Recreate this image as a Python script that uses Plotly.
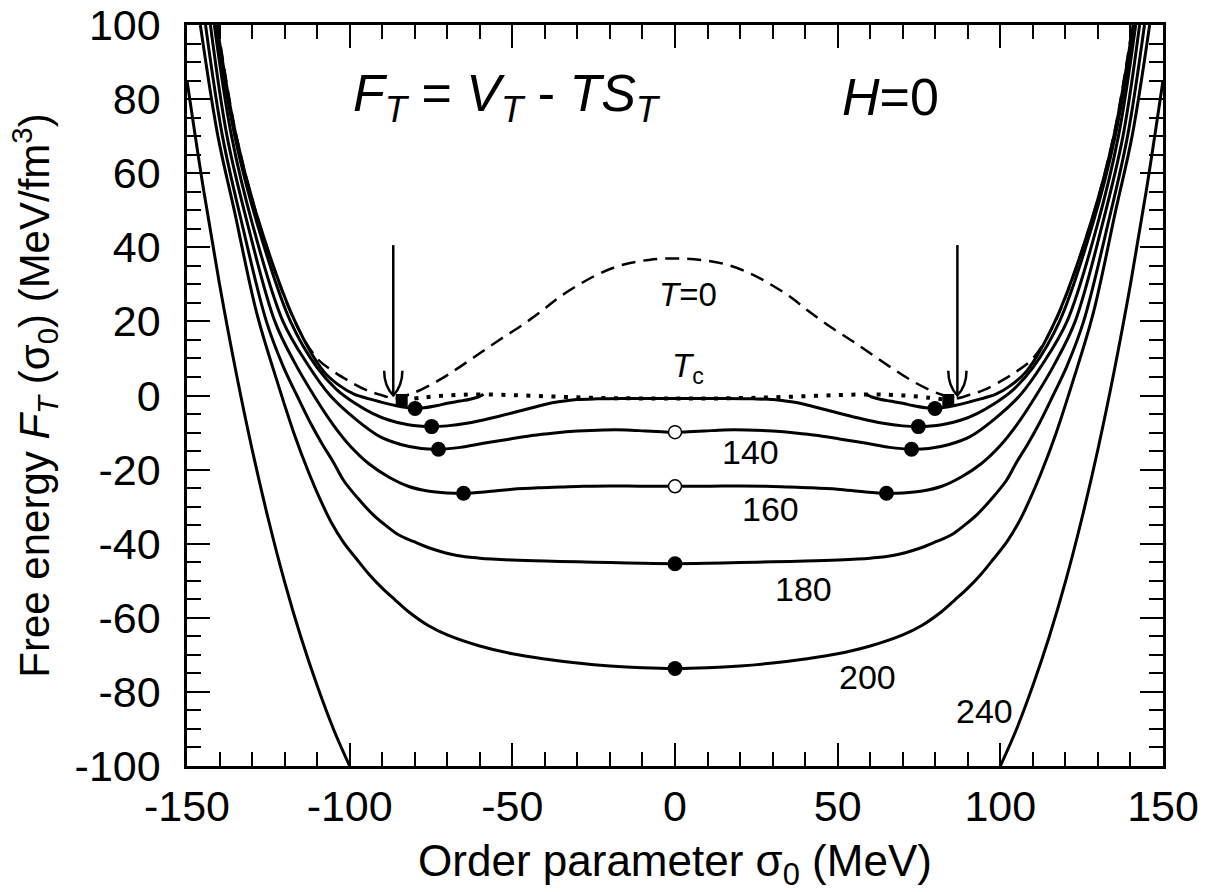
import plotly.graph_objects as go

# ---------------- data (left half; curves are symmetric) ----------------
sig_T0 = [-140.6, -134.8, -127.6, -117, -110, -105, -100.8, -95, -90.6, -86, -82, -78, -72, -66, -60, -54, -47.6, -41, -35.3, -29, -23, -16, -8, 0]
F_T0 = [100, 70, 46, 20.2, 10, 6.5, 4.2, 1.5, 0.2, -0.8, 0.2, 1.6, 4.4, 7.8, 11.4, 15, 18.6, 22.8, 26.7, 30.2, 33, 35.3, 36.6, 37]

sig_Tc = [-84, -78, -72, -66, -59, -50, -40, -30, -20, -10, 0]
F_Tc = [-1.2, -0.6, -0.1, 0.2, 0.3, 0.1, -0.2, -0.5, -0.7, -0.8, -0.8]

sig_Ta = [-140.8, -134.9, -127.6, -116.8, -108, -103, -98.5, -94, -90.7, -86, -82, -79.9, -77, -73, -70, -66, -63, -60.5, -59.5, -58.9]
F_Ta = [100, 70, 46, 20, 6.5, 2.6, 0.3, -0.9, -1.7, -2.7, -3.3, -3.5, -3.3, -2.7, -2.1, -1.5, -1.0, -0.4, 0.0, 0.4]

sig_Tb = [-141.1, -135.3, -128.3, -118.2, -110, -104, -98, -93, -88, -82, -74.8, -70, -64, -56, -48.7, -43, -38.4, -34, -30.2, -24, -16, -8, 0]
F_Tb = [100, 70, 46, 20, 7.5, 1.6, -2.3, -4.8, -6.6, -7.9, -8.4, -8.2, -7.5, -6.0, -4.4, -3.1, -2.1, -1.5, -1.1, -0.9, -0.8, -0.8, -0.8]

sig_140 = [-141.6, -136.3, -129.8, -120.5, -113, -106, -98, -90.7, -84, -78, -72.7, -66, -58.9, -51, -44, -37, -30, -22, -15, -9, -4, 0]
F_140 = [100, 70, 46, 20, 8.5, 0, -6.5, -11.1, -13.3, -14.3, -14.5, -14, -12.9, -11.8, -10.8, -10.1, -9.6, -9.3, -9.3, -9.6, -9.8, -9.9]

sig_160 = [-142.8, -137.7, -131.3, -123, -117, -111, -105, -100, -94, -88, -82, -76, -70, -65, -58, -50, -42, -35, -28, -20, -10, 0]
F_160 = [100, 70, 46, 20, 9, 0, -8, -13.5, -18.5, -22, -24.5, -25.8, -26.3, -26.4, -26.0, -25.3, -24.9, -24.7, -24.5, -24.4, -24.5, -24.5]

sig_180 = [-144.3, -139.1, -133, -125.6, -120.5, -116.2, -112, -108.5, -105, -101.8, -97, -93, -89, -85, -80.4, -75, -67, -60, -50, -40, -30, -20, -10, 0]
F_180 = [100, 70, 46, 20, 8, 0, -7.5, -13, -18, -23, -28.2, -32, -35, -37.6, -39.4, -41.3, -43.2, -43.9, -44.4, -44.7, -44.9, -45.1, -45.3, -45.4]

sig_200 = [-145.9, -140.5, -135.6, -128.5, -122, -117, -112.5, -109, -105.5, -102, -98, -94, -90, -86, -82, -76, -70, -60, -50, -40, -30, -20, -10, 0]
F_200 = [100, 70, 50.5, 22, 3, -10.5, -21, -28.2, -34.5, -39.5, -44, -48.3, -52, -55.2, -58.3, -62, -64.6, -67.6, -69.7, -71.1, -72.2, -73, -73.5, -73.7]

sig_240 = [-150, -145, -140, -135, -130, -125, -120, -115, -110, -105, -100]
F_240 = [85, 56, 30, 6.6, -14.5, -33.4, -50.3, -65.2, -78.3, -90, -100]

# markers
sq_sig = [-84, 84]
sq_F = [-1.2, -1.2]
dot_sig = [-79.9, 79.9, -74.8, 74.8, -72.7, 72.7, -65, 65, 0, 0]
dot_F = [-3.5, -3.5, -8.4, -8.4, -14.5, -14.5, -26.4, -26.4, -45.4, -73.7]
open_sig = [0, 0]
open_F = [-9.9, -24.5]

# arrows (T=0 minima)
arrow_sig = [-86.6, 86.8]
arrow_top = 40.6
arrow_tip = 0.0

# labels
curve_labels = ["140", "160", "180", "200", "240"]
label_sig = [23.3, 29.5, 39.5, 59.2, 95.2]
label_F = [-15.2, -30.5, -52.2, -75.9, -85.1]

# tick labels
x_tickvals = [-150, -100, -50, 0, 50, 100, 150]
x_ticktext = ["-150", "-100", "-50", "0", "50", "100", "150"]
y_tickvals = [-100, -80, -60, -40, -20, 0, 20, 40, 60, 80, 100]
y_ticktext = ["-100", "-80", "-60", "-40", "-20", "0", "20", "40", "60", "80", "100"]

FONT = "Liberation Sans, Arial, Helvetica, sans-serif"


def full(sl, fl):
    """left half + mirrored right half (symmetric curve)"""
    xs = list(sl)
    ys = list(fl)
    for s, f in zip(reversed(sl), reversed(fl)):
        if s != 0:
            xs.append(-s)
            ys.append(f)
    return xs, ys


fig = go.Figure()


def add_line(x, y, width=3, dash=None):
    fig.add_trace(go.Scatter(
        x=x, y=y, mode="lines", showlegend=False, hoverinfo="skip",
        line=dict(color="black", width=width, dash=dash, shape="spline", smoothing=1.0)))


for sl, fl in [(sig_Tb, F_Tb), (sig_140, F_140), (sig_160, F_160), (sig_180, F_180), (sig_200, F_200)]:
    x, y = full(sl, fl)
    add_line(x, y)

# stub (just below Tc) and T=240: separate left / right branches
for sl, fl in [(sig_Ta, F_Ta), (sig_240, F_240)]:
    add_line(sl, fl)
    add_line([-s for s in sl], fl)

x, y = full(sig_T0, F_T0)
add_line(x, y, width=2.5, dash="14px,8px")
x, y = full(sig_Tc, F_Tc)
add_line(x, y, width=4, dash="4px,8.5px")

fig.add_trace(go.Scatter(x=sq_sig, y=sq_F, mode="markers", showlegend=False, hoverinfo="skip",
                         marker=dict(symbol="square", size=12, color="black")))
fig.add_trace(go.Scatter(x=dot_sig, y=dot_F, mode="markers", showlegend=False, hoverinfo="skip",
                         marker=dict(symbol="circle", size=15, color="black")))
fig.add_trace(go.Scatter(x=open_sig, y=open_F, mode="markers", showlegend=False, hoverinfo="skip",
                         marker=dict(symbol="circle", size=13, color="white", line=dict(color="black", width=1.5))))

# arrows
shapes = []
for s in arrow_sig:
    shapes.append(dict(type="line", xref="x", yref="y", x0=s, x1=s, y0=arrow_top, y1=arrow_tip,
                       line=dict(color="black", width=2.5)))
    shapes.append(dict(type="path", xref="x", yref="y",
                       path=f"M {s-2.8},{arrow_tip+6.7} Q {s-2.8},{arrow_tip+2.6} {s},{arrow_tip} "
                            f"Q {s+2.8},{arrow_tip+2.6} {s+2.8},{arrow_tip+6.7}",
                       line=dict(color="black", width=2.5)))

annotations = [
    dict(x=-51.5, y=80.5, text="<i>F</i><sub><i>T</i></sub> = <i>V</i><sub><i>T</i></sub> - <i>TS</i><sub><i>T</i></sub>",
         font=dict(size=52, family=FONT, color="black")),
    dict(x=66.1, y=80.5, text="<i>H</i>=0", font=dict(size=52, family=FONT, color="black")),
    dict(x=4.1, y=27.3, text="<i>T</i>=0", font=dict(size=33, family=FONT, color="black")),
    dict(x=4.0, y=7.5, text="<i>T</i><sub>c</sub>", font=dict(size=33, family=FONT, color="black")),
]
for t, s, f in zip(curve_labels, label_sig, label_F):
    annotations.append(dict(x=s, y=f, text=t, font=dict(size=34, family=FONT, color="black")))
for a in annotations:
    a.update(xref="x", yref="y", showarrow=False, xanchor="center", yanchor="middle")

axis_common = dict(
    showline=True, linewidth=2.5, linecolor="black", mirror="allticks",
    ticks="inside", ticklen=23, tickwidth=2, tickcolor="black",
    showgrid=False, zeroline=False, automargin=False,
    tickfont=dict(size=43, family=FONT, color="black"),
)

fig.update_layout(
    width=1206, height=892, autosize=False,
    margin=dict(l=187, r=43, t=25, b=126),
    paper_bgcolor="white", plot_bgcolor="white",
    font=dict(family=FONT, color="black"),
    shapes=shapes, annotations=annotations,
    xaxis=dict(range=[-150, 150], tickmode="array", tickvals=x_tickvals, ticktext=x_ticktext,
               minor=dict(ticks="inside", ticklen=14, tickwidth=2, tickcolor="black", dtick=10, tick0=0, showgrid=False),
               title=dict(text="Order parameter σ<sub>0</sub> (MeV)", font=dict(size=44, family=FONT), standoff=16),
               ticklabelstandoff=1,
               **axis_common),
    yaxis=dict(range=[-100, 100], tickmode="array", tickvals=y_tickvals, ticktext=y_ticktext,
               minor=dict(ticks="inside", ticklen=14, tickwidth=2, tickcolor="black", dtick=5, tick0=0, showgrid=False),
               title=dict(text="Free energy <i>F</i><sub><i>T</i></sub> (σ<sub>0</sub>) (MeV/fm<sup>3</sup>)",
                          font=dict(size=42, family=FONT), standoff=12),
               ticklabelstandoff=15,
               **axis_common),
)

fig.write_html("out.html")
